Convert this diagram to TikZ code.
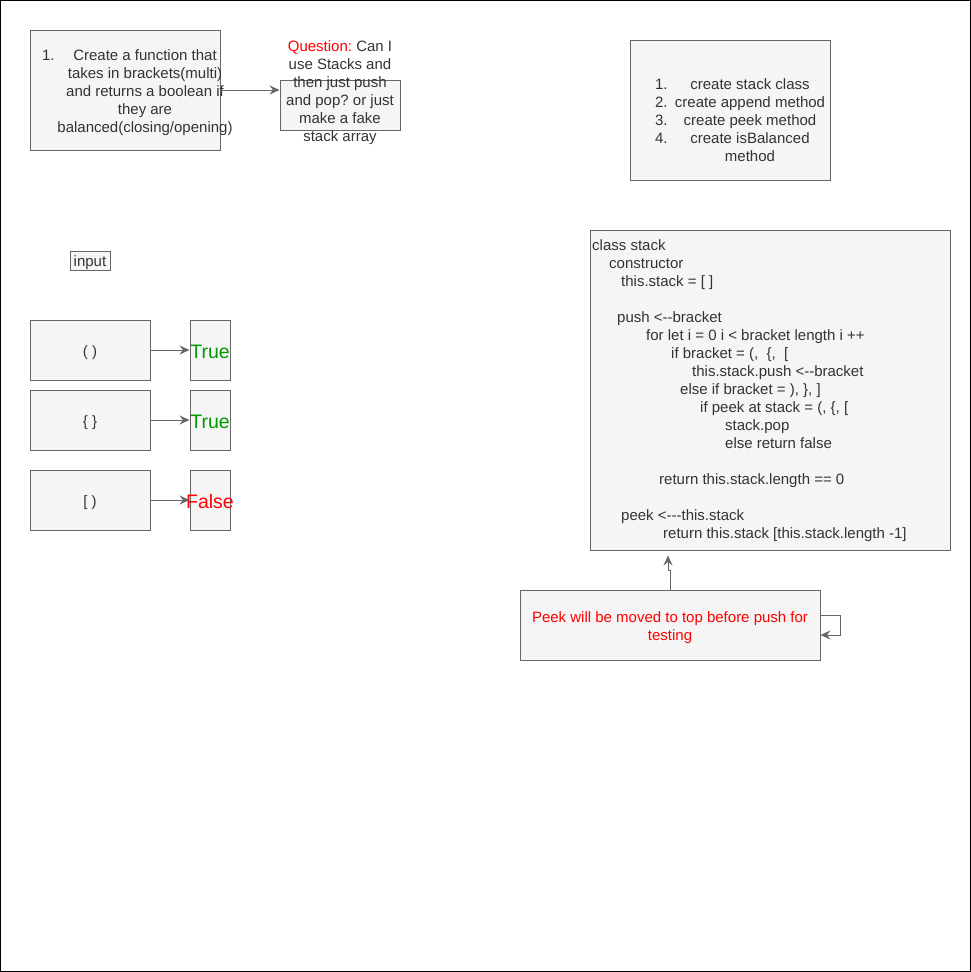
\documentclass[tikz,border=0pt]{standalone}
\usepackage{fontspec}
\setmainfont{Liberation Sans}
\usetikzlibrary{arrows.meta}
\definecolor{strk}{HTML}{666666}
\definecolor{fillc}{HTML}{F5F5F5}
\definecolor{txt}{HTML}{333333}
\definecolor{grn}{HTML}{009900}
\definecolor{rd}{HTML}{FF0000}
\newcommand{\lineitem}[3]{\hbox to #1pt{\rlap{#2}\hfil #3\hfil}}
\frenchspacing
\begin{document}
\begin{tikzpicture}[x=1pt,y=-1pt,
  box/.style={draw=strk, fill=fillc, line width=1pt, inner sep=0pt},
  txtnode/.style={text=txt, inner sep=0pt, font=\fontsize{15}{18}\selectfont\frenchspacing, align=center},
  bigtxt/.style={inner sep=0pt, font=\fontsize{19.5}{23}\selectfont},
  conn/.style={draw=strk, line width=1pt, -{Stealth[length=10pt,width=9pt,inset=3.5pt]}}
]
\useasboundingbox (0,0) rectangle (971,972);
\draw[black, line width=1pt] (0.5,0.5) rectangle (970.5,971.5);

% top-left task box
\node[box, minimum width=190pt, minimum height=120pt] (task) at (125,90) {};
\node[txtnode] (tasktxt) at (145,93) {\lineitem{206}{1.}{Create a function that}\\takes in brackets(multi)\\and returns a boolean if\\they are\\balanced(closing/opening)};

% question box
\node[box, minimum width=120pt, minimum height=50pt] (q) at (340,105) {};
\node[txtnode] (qtxt) at (340,93) {\textcolor{rd}{Question:} Can I\\use Stacks and\\then just push\\and pop? or just\\make a fake\\stack array};
\draw[conn] (task.east |- 0,90) -- (q.west |- 0,90);

% plan list box
\node[box, minimum width=200pt, minimum height=140pt] (plan) at (730,110) {};
\node[txtnode] (plantxt) at (750,120) {\lineitem{190}{1.}{create stack class}\\\lineitem{190}{2.}{create append method}\\\lineitem{190}{3.}{create peek method}\\\lineitem{190}{4.}{create isBalanced}\\method};

% input label
\node[box, minimum width=40pt, minimum height=19pt] (input) at (90,260.5) {};
\node[txtnode] (inputtxt) at (90,263) {input};

% examples
\node[box, minimum width=120pt, minimum height=60pt] (in1) at (90,350) {};
\node[txtnode] at (90,352.5) {( )};
\node[box, minimum width=40pt, minimum height=60pt] (out1) at (210,350) {};
\node[bigtxt, text=grn] at (210,352) {True};
\draw[conn] (in1.east) -- (out1.west);

\node[box, minimum width=120pt, minimum height=60pt] (in2) at (90,420) {};
\node[txtnode] at (90,422.5) {\{ \}};
\node[box, minimum width=40pt, minimum height=60pt] (out2) at (210,420) {};
\node[bigtxt, text=grn] at (210,422) {True};
\draw[conn] (in2.east) -- (out2.west);

\node[box, minimum width=120pt, minimum height=60pt] (in3) at (90,500) {};
\node[txtnode] at (90,502.5) {[ )};
\node[box, minimum width=40pt, minimum height=60pt] (out3) at (210,500) {};
\node[bigtxt, text=rd] at (210,502) {False};
\draw[conn] (in3.east) -- (out3.west);

% code box
\node[box, minimum width=360pt, minimum height=320pt] (code) at (770,390) {};
\node[txtnode, align=left, anchor=north west] (codetxt) at (592,239.5) {class stack\\
\hspace*{17pt}constructor\\
\hspace*{29pt}this.stack = [ ]\\
\mbox{}\\
\hspace*{25pt}push <-{}-bracket\\
\hspace*{54pt}for let i = 0 i < bracket length i ++\\
\hspace*{79pt}if bracket = (,\ \ \{,\ \ [\\
\hspace*{100pt}this.stack.push <-{}-bracket\\
\hspace*{88pt}else if bracket = ), \}, ]\\
\hspace*{108pt}if peek at stack = (, \{, [\\
\hspace*{133pt}stack.pop\\
\hspace*{133pt}else return false\\
\mbox{}\\
\hspace*{67pt}return this.stack.length == 0\\
\mbox{}\\
\hspace*{29pt}peek <-{}-{}-this.stack\\
\hspace*{71pt}return this.stack [this.stack.length -1]};

% peek note
\node[box, minimum width=300pt, minimum height=70pt] (peek) at (670,625) {};
\node[txtnode, text=rd] (peektxt) at (670,628) {Peek will be moved to top before push for\\testing};
\draw[conn] (peek.north) -- ++(0,-19) -- ++(-2,0) -- ([xshift=-2pt,yshift=-5pt]code.south -| peek.north);
\draw[conn] ([yshift=10pt]peek.east) -- ++(20,0) |- ([yshift=-10pt]peek.east);
\end{tikzpicture}
\end{document}
